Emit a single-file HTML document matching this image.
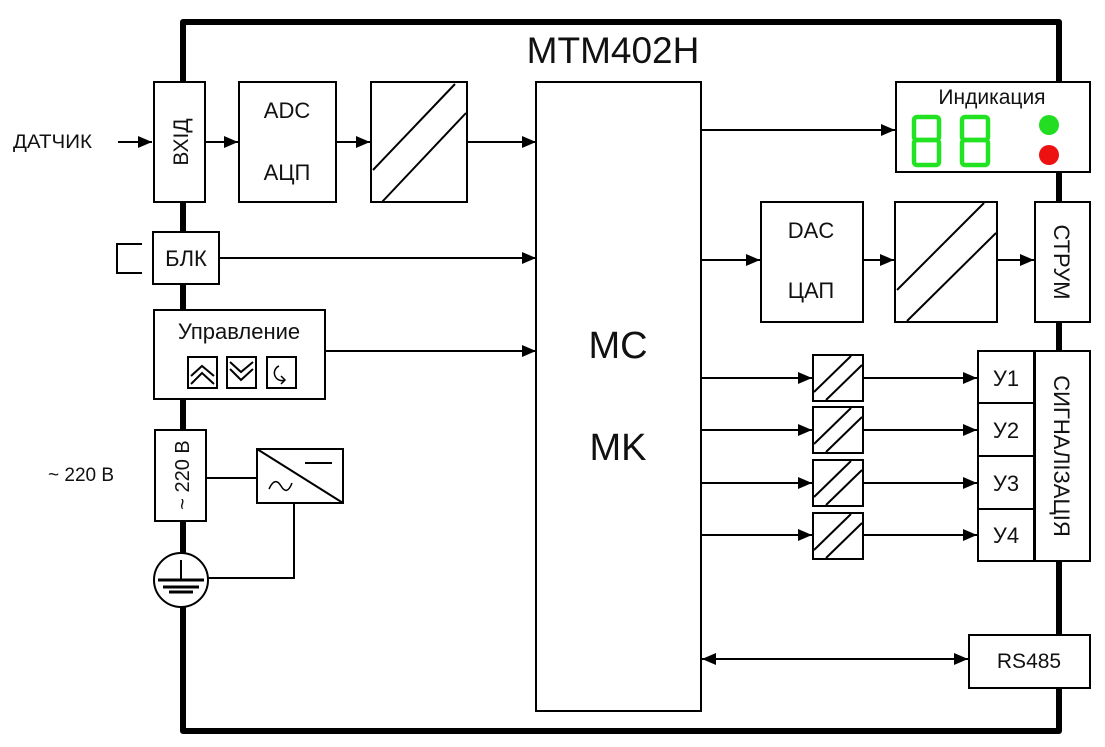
<!DOCTYPE html>
<html><head><meta charset="utf-8"><style>
html,body{margin:0;padding:0;background:#fff;}
svg{display:block;}
text{font-family:"Liberation Sans",Arial,sans-serif;fill:#111;}
</style></head><body>
<svg width="1105" height="747" viewBox="0 0 1105 747" xmlns="http://www.w3.org/2000/svg">
<defs>
<marker id="ar" markerWidth="14" markerHeight="12" refX="14" refY="6" orient="auto" markerUnits="userSpaceOnUse">
<path d="M0,0 L14,6 L0,12 Z" fill="#000"/></marker>
<marker id="al" markerWidth="14" markerHeight="12" refX="0" refY="6" orient="auto" markerUnits="userSpaceOnUse">
<path d="M14,0 L0,6 L14,12 Z" fill="#000"/></marker>
</defs>
<path d="M183,731 L183,22 L1059,22 L1059,731 Z" fill="none" stroke="#000" stroke-width="6" stroke-linejoin="round"/>
<text x="613" y="63" font-size="37" text-anchor="middle">MTM402H</text>

<g stroke="#000" stroke-width="2" fill="#fff">
<rect x="154" y="82" width="51" height="120"/>
<rect x="239" y="82" width="97" height="120"/>
<rect x="371" y="82" width="96" height="120"/>
<rect x="153" y="232" width="66" height="52"/>
<rect x="154" y="310" width="171" height="89"/>
<rect x="188" y="357" width="29" height="31"/>
<rect x="227" y="357" width="29" height="31"/>
<rect x="267" y="357" width="29" height="31"/>
<rect x="155" y="430" width="51" height="91"/>
<rect x="257" y="449" width="86" height="54"/>
<circle cx="181" cy="580" r="27"/>
<rect x="536" y="82" width="165" height="629"/>
<rect x="896" y="82" width="194" height="90"/>
<rect x="761" y="202" width="102" height="120"/>
<rect x="895" y="202" width="102" height="120"/>
<rect x="1035" y="202" width="55" height="120"/>
<rect x="813" y="355" width="50" height="46"/>
<rect x="813" y="407" width="50" height="46"/>
<rect x="813" y="460" width="50" height="46"/>
<rect x="813" y="513" width="50" height="46"/>
<rect x="978" y="351" width="56" height="52"/>
<rect x="978" y="403" width="56" height="53"/>
<rect x="978" y="456" width="56" height="53"/>
<rect x="978" y="509" width="56" height="52"/>
<rect x="1035" y="351" width="55" height="210"/>
<rect x="969" y="635" width="121" height="53"/>
</g>

<g stroke="#000" stroke-width="2" fill="none">
<line x1="373" y1="170" x2="455" y2="84"/><line x1="382" y1="202" x2="466" y2="113"/>
<line x1="897" y1="290" x2="984" y2="203"/><line x1="907" y1="321" x2="996" y2="233"/>
<g id="s1"><line x1="814" y1="392" x2="851" y2="356"/><line x1="826" y1="400" x2="862" y2="365"/></g>
<use href="#s1" y="52"/><use href="#s1" y="105"/><use href="#s1" y="158"/>
<path d="M142,244 H117 V273 H142"/>
<path d="M191,376 L202,366 L214,376 M191,384 L202,373 L214,384"/>
<path d="M230,362 L241,372 L253,362 M230,369 L241,380 L253,369"/>
<path d="M279,366 A7,7 0 1 0 285,380 M281,376 L285,380 L281,384" stroke-width="1.5"/>
<line x1="257" y1="449" x2="343" y2="503"/>
<line x1="305" y1="463" x2="332" y2="463"/>
<path d="M269,489 Q275,476 281,486 T292,483" stroke-width="1.5"/>
<line x1="206" y1="478" x2="257" y2="478"/>
<path d="M294,503 V578 H208"/>
<line x1="181" y1="560" x2="181" y2="580"/>
<line x1="158" y1="580" x2="204" y2="580" stroke-width="3"/>
<line x1="163" y1="587" x2="199" y2="587" stroke-width="3"/>
<line x1="169" y1="592" x2="193" y2="592" stroke-width="3"/>
<line x1="118" y1="142" x2="152" y2="142" marker-end="url(#ar)"/>
<line x1="206" y1="142" x2="238" y2="142" marker-end="url(#ar)"/>
<line x1="337" y1="142" x2="370" y2="142" marker-end="url(#ar)"/>
<line x1="468" y1="142" x2="536" y2="142" marker-end="url(#ar)"/>
<line x1="220" y1="258" x2="536" y2="258" marker-end="url(#ar)"/>
<line x1="326" y1="351" x2="536" y2="351" marker-end="url(#ar)"/>
<line x1="701" y1="130" x2="895" y2="130" marker-end="url(#ar)"/>
<line x1="701" y1="260" x2="760" y2="260" marker-end="url(#ar)"/>
<line x1="864" y1="260" x2="894" y2="260" marker-end="url(#ar)"/>
<line x1="998" y1="260" x2="1034" y2="260" marker-end="url(#ar)"/>
<line x1="701" y1="378" x2="812" y2="378" marker-end="url(#ar)"/>
<line x1="701" y1="430" x2="812" y2="430" marker-end="url(#ar)"/>
<line x1="701" y1="483" x2="812" y2="483" marker-end="url(#ar)"/>
<line x1="701" y1="535" x2="812" y2="535" marker-end="url(#ar)"/>
<line x1="864" y1="378" x2="977" y2="378" marker-end="url(#ar)"/>
<line x1="864" y1="430" x2="977" y2="430" marker-end="url(#ar)"/>
<line x1="864" y1="483" x2="977" y2="483" marker-end="url(#ar)"/>
<line x1="864" y1="535" x2="977" y2="535" marker-end="url(#ar)"/>
<line x1="702" y1="659" x2="968" y2="659" marker-start="url(#al)" marker-end="url(#ar)"/>
<g stroke="#22e322" stroke-width="4.5">
<rect x="914" y="117" width="25" height="23" rx="3"/><rect x="914" y="140" width="25" height="25" rx="3"/>
<rect x="962" y="117" width="26" height="23" rx="3"/><rect x="962" y="140" width="26" height="25" rx="3"/>
</g>
</g>
<circle cx="1049" cy="125" r="10" fill="#22dd22"/>
<circle cx="1049" cy="155" r="10" fill="#ee1111"/>

<text x="13" y="148" font-size="19" textLength="79" lengthAdjust="spacingAndGlyphs">ДАТЧИК</text>
<text transform="translate(188,142) rotate(-90)" font-size="21" text-anchor="middle">ВХІД</text>
<text x="287" y="118" font-size="22" text-anchor="middle">ADC</text>
<text x="287" y="180" font-size="22" text-anchor="middle">АЦП</text>
<text x="186" y="266" font-size="22" text-anchor="middle">БЛК</text>
<text x="239" y="339" font-size="22" text-anchor="middle">Управление</text>
<text transform="translate(189,475) rotate(-90)" font-size="20" text-anchor="middle">~ 220 В</text>
<text x="48" y="481" font-size="19">~ 220 В</text>
<text x="618" y="358" font-size="38" text-anchor="middle">MC</text>
<text x="618" y="460" font-size="38" text-anchor="middle">MK</text>
<text x="992" y="104" font-size="21" text-anchor="middle">Индикация</text>
<text x="811" y="238" font-size="22" text-anchor="middle">DAC</text>
<text x="811" y="298" font-size="22" text-anchor="middle">ЦАП</text>
<text transform="translate(1054,262) rotate(90)" font-size="22" text-anchor="middle">СТРУМ</text>
<text x="1006" y="386" font-size="22" text-anchor="middle">У1</text>
<text x="1006" y="438" font-size="22" text-anchor="middle">У2</text>
<text x="1006" y="491" font-size="22" text-anchor="middle">У3</text>
<text x="1006" y="543" font-size="22" text-anchor="middle">У4</text>
<text transform="translate(1054,456) rotate(90)" font-size="22" text-anchor="middle">СИГНАЛІЗАЦІЯ</text>
<text x="1029" y="668" font-size="21" text-anchor="middle">RS485</text>
</svg>
</body></html>
